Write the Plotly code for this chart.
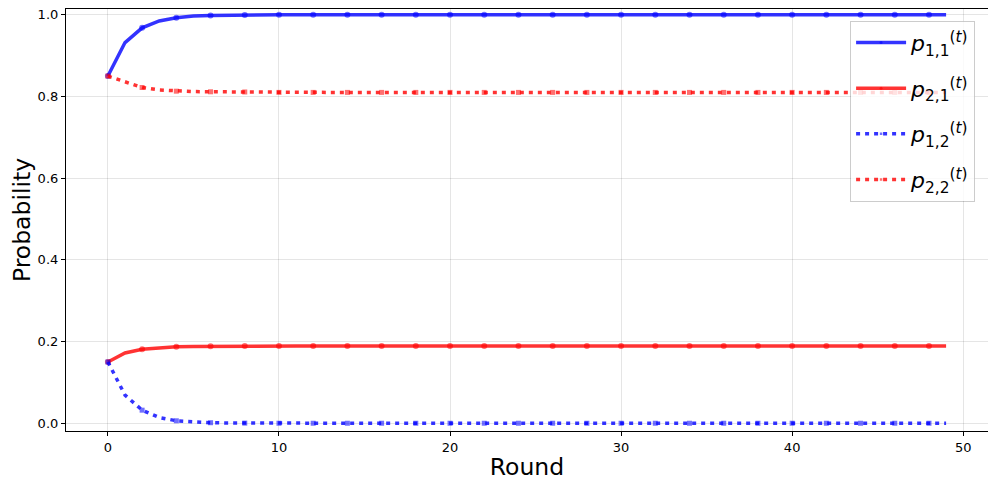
import plotly.graph_objects as go

rounds = list(range(50))

p11 = [0.85, 0.932, 0.968, 0.985, 0.993, 0.997, 0.9985, 0.9993, 0.9997, 0.9998] + [1.0] * 40
p21 = [0.15, 0.172, 0.181, 0.185, 0.187, 0.188, 0.1885, 0.189, 0.189, 0.189] + [0.189] * 40
p12 = [0.15, 0.069, 0.032, 0.014, 0.006, 0.003, 0.0013, 0.0006, 0.0003, 0.0001] + [0.0] * 40
p22 = [0.85, 0.836, 0.822, 0.816, 0.813, 0.812, 0.8115, 0.811, 0.811, 0.811] + [0.81] * 40

legend_names = [
    "<i>p</i><sub>1,1</sub><sup>(<i>t</i>)</sup>",
    "<i>p</i><sub>2,1</sub><sup>(<i>t</i>)</sup>",
    "<i>p</i><sub>1,2</sub><sup>(<i>t</i>)</sup>",
    "<i>p</i><sub>2,2</sub><sup>(<i>t</i>)</sup>",
]

BLUE = "rgba(0,0,255,0.8)"
RED = "rgba(255,0,0,0.8)"

marker_sizes = [6 if i % 2 == 0 else 0 for i in rounds]
sq_sizes = [5 if i % 2 == 0 else 0 for i in rounds]

fig = go.Figure()
specs = [
    (p11, legend_names[0], BLUE, "solid", "circle", marker_sizes, 3.5),
    (p21, legend_names[1], RED, "solid", "circle", marker_sizes, 3.5),
    (p12, legend_names[2], BLUE, "4px,5px", "square", sq_sizes, 3.5),
    (p22, legend_names[3], RED, "4px,5px", "square", sq_sizes, 3.5),
]
for k, (ys, name, col, dash, sym, sizes, w) in enumerate(specs):
    fig.add_trace(go.Scatter(
        x=rounds, y=ys, name=name, mode="lines+markers",
        legendgroup=f"g{k}",
        line=dict(color=col, width=w, dash=dash),
        marker=dict(color=col, size=sizes, symbol=sym, line=dict(width=0)),
    ))

axis_common = dict(
    showline=True, linecolor="black", linewidth=1.2, mirror=True,
    ticks="outside", ticklen=4, tickwidth=1, tickcolor="black",
    showgrid=True, gridcolor="rgba(0,0,0,0.1)", gridwidth=1,
    zeroline=False, automargin=False, ticklabeloverflow="allow",
    tickfont=dict(family="DejaVu Sans", size=13, color="black"),
)

# page body has an 8px default margin; the figure is sized to fill the rest
fig.update_layout(
    width=988, height=481,
    margin=dict(l=58, r=8, t=1, b=58, autoexpand=False),
    paper_bgcolor="white", plot_bgcolor="white",
    font=dict(family="DejaVu Sans", color="black"),
    xaxis=dict(range=[-2.45, 51.45], tickvals=[0, 10, 20, 30, 40, 50],
               title=dict(text="Round", font=dict(size=23.5), standoff=4), **axis_common),
    yaxis=dict(range=[-0.019, 1.0142], tickvals=[0, 0.2, 0.4, 0.6, 0.8, 1.0],
               tickformat=".1f",
               title=dict(text="Probability", font=dict(size=23.5), standoff=7), **axis_common),
    legend=dict(
        x=0.986, y=0.972, xanchor="right", yanchor="top",
        bgcolor="rgba(255,255,255,0.8)", bordercolor="rgba(0,0,0,0.2)", borderwidth=1,
        font=dict(family="DejaVu Sans", size=22, color="black"),
        itemwidth=50, tracegroupgap=14,
    ),
    showlegend=True,
)

fig.write_html("out.html")
